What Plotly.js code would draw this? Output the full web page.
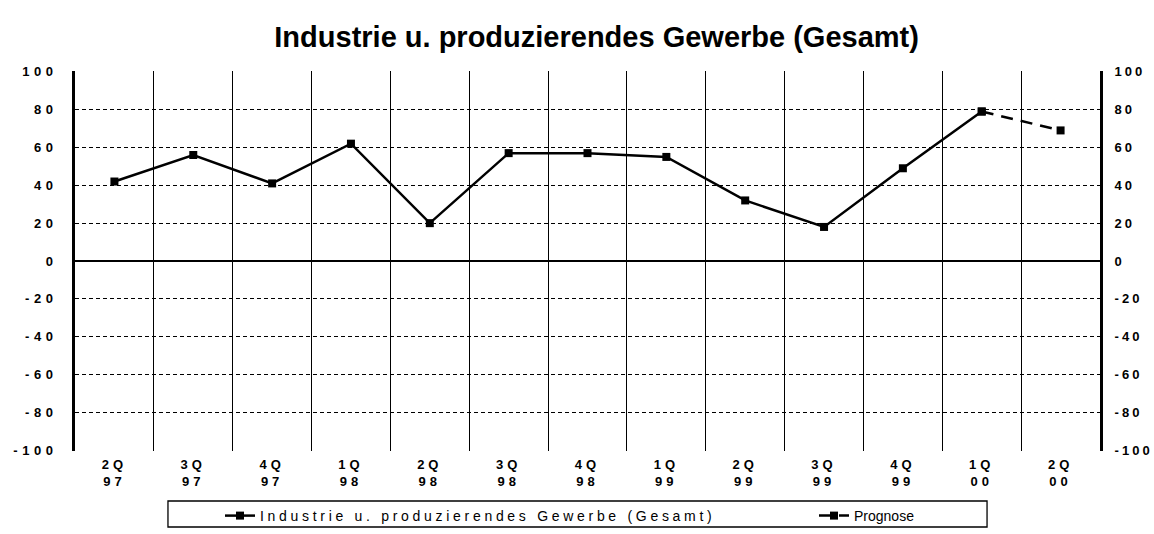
<!DOCTYPE html>
<html>
<head>
<meta charset="utf-8">
<script src="https://cdn.plot.ly/plotly-3.0.1.min.js"></script>
<style>
html,body{margin:0;padding:0;background:#fff;}
#chart{width:1154px;height:534px;}
.xtick text {letter-spacing: 4px;}
.ytick text {letter-spacing: 4.5px;}
.y2tick text {letter-spacing: 3px;}
.legendtext {letter-spacing: 3.7px;}
</style>
</head>
<body>
<div id="chart"></div>
<script>
const categories = ["2Q<br>97","3Q<br>97","4Q<br>97","1Q<br>98","2Q<br>98","3Q<br>98","4Q<br>98","1Q<br>99","2Q<br>99","3Q<br>99","4Q<br>99","1Q<br>00","2Q<br>00"];
const actualCats = categories.slice(0, 12);
const actualValues = [42, 56, 41, 62, 20, 57, 57, 55, 32, 18, 49, 79];
const forecastCats = ["1Q<br>00","2Q<br>00"];
const forecastValues = [79, 69];
const yTicks = [-100,-80,-60,-40,-20,0,20,40,60,80,100];
const seriesName = "Industrie u. produzierendes Gewerbe (Gesamt)";
const forecastName = "Prognose";
const titleText = "Industrie u. produzierendes Gewerbe (Gesamt)";

const tickFont = {family: "Liberation Sans, Arial, sans-serif", size: 13, color: "#000", weight: "bold"};
const legendFont = {family: "Liberation Sans, Arial, sans-serif", size: 14, color: "#000"};

const traces = [
  {x: actualCats, y: actualValues, type: "scatter", mode: "lines+markers", name: seriesName, legend: "legend",
   line: {color: "#000", width: 2.5}, marker: {symbol: "square", size: 8, color: "#000"}},
  {x: forecastCats, y: forecastValues, type: "scatter", mode: "lines+markers", name: forecastName, legend: "legend2",
   line: {color: "#000", width: 2.5, dash: "12px,8px"}, marker: {symbol: "square", size: 8, color: "#000"}},
  {x: categories, y: categories.map(() => null), yaxis: "y2", type: "scatter", mode: "lines",
   showlegend: false, hoverinfo: "skip"}
];

const layout = {
  width: 1154, height: 534,
  paper_bgcolor: "#fff", plot_bgcolor: "#fff",
  margin: {l: 75, r: 54, t: 71, b: 83, autoexpand: false},
  title: {text: titleText, x: 0.517, xanchor: "center", y: 0.931, yanchor: "middle",
          font: {family: "Liberation Sans, Arial, sans-serif", size: 29, color: "#000", weight: "bold"}},
  showlegend: true,
  legend: {orientation: "h", xref: "container", yref: "container", x: 220/1154, xanchor: "left", y: 0.0337, yanchor: "middle",
           borderwidth: 0, bgcolor: "rgba(0,0,0,0)", font: legendFont},
  legend2: {orientation: "h", xref: "container", yref: "container", x: 814/1154, xanchor: "left", y: 0.0337, yanchor: "middle",
           borderwidth: 0, bgcolor: "rgba(0,0,0,0)", font: legendFont},
  shapes: [
    {type: "rect", xref: "paper", yref: "paper", x0: 0.0907, x1: 0.8898, y0: -0.1316, y1: -0.2,
     line: {color: "#000", width: 1.3}, fillcolor: "rgba(0,0,0,0)", layer: "above"}
  ],
  xaxis: {type: "category", categoryorder: "array", categoryarray: categories,
          range: [-0.5, 12.5], tickson: "boundaries", ticks: "", showgrid: true,
          gridcolor: "#000", gridwidth: 1, showline: false, zeroline: false,
          tickfont: {family: "Liberation Sans, Arial, sans-serif", size: 13, color: "#000", weight: "bold"},
          ticklabelstandoff: 4, fixedrange: true},
  yaxis: {range: [-100.4, 100.4], tickvals: yTicks, ticktext: yTicks.map(String),
          showgrid: true, gridcolor: "#000", gridwidth: 1, griddash: "4px,3px",
          zeroline: true, zerolinecolor: "#000", zerolinewidth: 2,
          showline: true, linecolor: "#000", linewidth: 3, ticks: "",
          tickfont: tickFont, ticklabelstandoff: 12, fixedrange: true},
  yaxis2: {range: [-100.4, 100.4], tickvals: yTicks, ticktext: yTicks.map(String),
           overlaying: "y", side: "right", showgrid: false, zeroline: false,
           showline: true, linecolor: "#000", linewidth: 3, ticks: "",
           tickfont: tickFont, ticklabelstandoff: 9, fixedrange: true}
};

Plotly.newPlot("chart", traces, layout, {displayModeBar: false, staticPlot: true}).then(function (gd) {
  gd.querySelectorAll(".infolayer text.legendtext").forEach(function (t) {
    if (t.textContent.trim() === forecastName) {
      t.style.letterSpacing = "7.5px";
      t.style.fontWeight = "bold";
    } else {
      t.style.letterSpacing = "3.7px";
    }
  });
  gd.querySelectorAll(".infolayer [clip-path]").forEach(function (el) {
    if (el.closest("g.legend, g.legend2")) el.removeAttribute("clip-path");
  });
});
</script>
</body>
</html>
